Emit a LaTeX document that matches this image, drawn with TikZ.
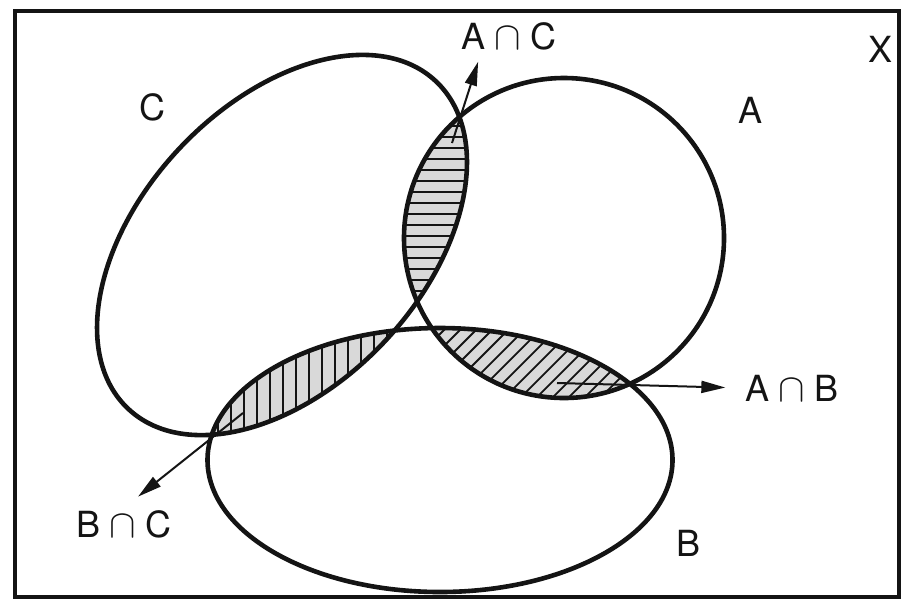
\documentclass[tikz,border=0pt]{standalone}
\usepackage{fontspec}
\setmainfont{TeX Gyre Heros}
\usetikzlibrary{arrows.meta,calc}
\definecolor{setink}{HTML}{141414}
\definecolor{setshade}{HTML}{D9D9D9}
\tikzset{
  setline/.style={draw=setink, line width=2.3pt},
  hatch/.style={draw=setink, line width=0.9pt},
  rotC/.style={rotate around={46.8:(282,245)}},
  arr/.style={-{Triangle[length=12pt,width=6pt]}, line width=1pt, color=setink},
  lbl/.style={font=\fontsize{18}{20}\selectfont, text=setink, inner sep=1pt},
}
\newcommand{\capof}[2]{#1\hspace{0.25em}\scalebox{1.15}{$\cap$}\hspace{0.25em}#2}
\begin{document}
\begin{tikzpicture}[x=0.5pt,y=-0.5pt]
  \useasboundingbox (0,0) rectangle (903,601);
  \def\setA{(564,238) circle [radius=80pt]}
  \def\setB{(440,460) ellipse [x radius=116.25pt, y radius=66pt]}
  \def\setC{(282,245) ellipse [x radius=112.35pt, y radius=70.45pt]}
  % universe X
  \draw[setink, line width=1.6pt] (15,11) rectangle (899,597);
  % A and C: horizontal hatching
  \begin{scope}
    \clip \setA; \clip[rotC] \setC;
    \fill[setshade] (0,0) rectangle (903,601);
    \foreach \y in {104,115,...,312} \draw[hatch] (380,\y) -- (490,\y);
  \end{scope}
  % B and C: vertical hatching
  \begin{scope}
    \clip \setB; \clip[rotC] \setC;
    \fill[setshade] (0,0) rectangle (903,601);
    \foreach \x in {205,218,...,430} \draw[hatch] (\x,300) -- (\x,450);
  \end{scope}
  % A and B: slanted hatching
  \begin{scope}
    \clip \setA; \clip \setB;
    \fill[setshade] (0,0) rectangle (903,601);
    \foreach \x in {290,306,...,660} \draw[hatch] (\x,420) -- (\x+110,310);
  \end{scope}
  % A, B and C
  \begin{scope}
    \clip \setA; \clip \setB; \clip[rotC] \setC;
    \fill[setshade] (0,0) rectangle (903,601);
  \end{scope}
  \draw[setline] \setA;
  \draw[setline] \setB;
  \draw[setline, rotC] \setC;
  % labels
  \node[lbl] (lblC) at (152,107) {C};
  \node[lbl] (lblA) at (750,110) {A};
  \node[lbl] (lblX) at (880,49) {X};
  \node[lbl] (lblB) at (688,543) {B};
  \node[lbl] (lblAC) at (509,36) {\capof{A}{C}};
  \node[lbl] (lblAB) at (792,388) {\capof{A}{B}};
  \node[lbl] (lblBC) at (124,524) {\capof{B}{C}};
  % pointers
  \coordinate (acin) at (452,143);
  \coordinate (abin) at (557,383);
  \coordinate (bcin) at (243,413);
  \draw[arr, shorten >=5pt] (acin) -- ($(lblAC.south west)!0.22!(lblAC.south east)$);
  \draw[arr, shorten >=9pt] (abin) -- (lblAB.west);
  \draw[arr, shorten >=9pt] (bcin) -- (lblBC.north);
\end{tikzpicture}
\end{document}
